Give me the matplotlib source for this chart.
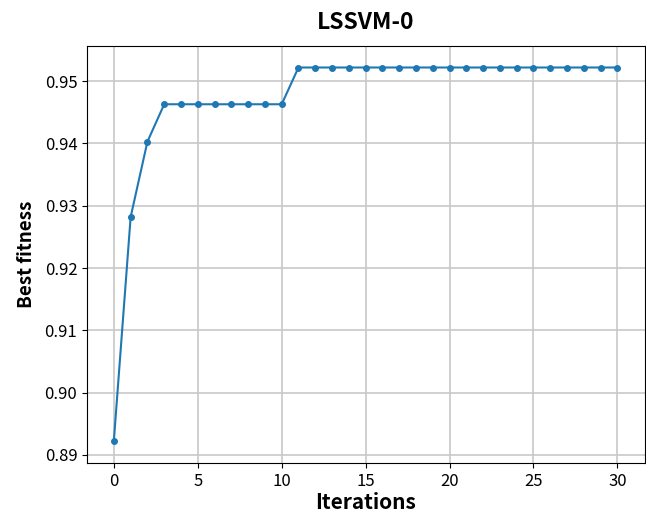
import numpy as np
import matplotlib
matplotlib.use('Agg')
import matplotlib.pyplot as plt

plt.rcParams['font.family'] = ['Noto Sans CJK SC', 'DejaVu Sans']

iterations = list(range(31))
# best fitness per iteration
fitness = [0.8923, 0.9282, 0.9403] + [0.9463] * 8 + [0.9522] * 20

fg = plt.figure(figsize=(6.46, 5.13), dpi=100)
ax = fg.add_axes([0.1347, 0.0975, 0.8638, 0.8128])
ax.plot(iterations, fitness, '-o', color='#1f77b4', lw=1.5, ms=4)
ax.set_xlim(-1.6, 31.65)
ax.set_ylim(0.8887, 0.95565)
ax.set_xticks([0, 5, 10, 15, 20, 25, 30])
ax.set_yticks([0.89, 0.90, 0.91, 0.92, 0.93, 0.94, 0.95])
ax.tick_params(labelsize=12)
ax.grid(True, color='#c8c8c8', lw=1.2)
ax.set_title('LSSVM-0', fontsize=16.5, fontweight='bold', pad=12)
ax.set_xlabel('Iterations', fontsize=15, fontweight='bold', labelpad=2)
ax.set_ylabel('Best fitness', fontsize=13.5, fontweight='bold', labelpad=6)

fg.savefig('out.png', dpi=100)
